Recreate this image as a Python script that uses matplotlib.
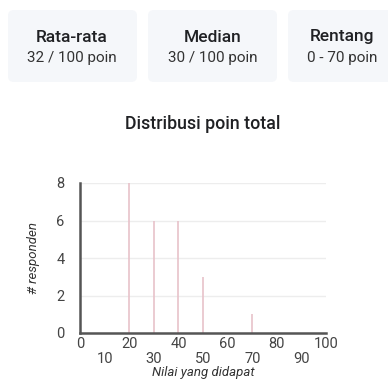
import matplotlib
matplotlib.use("Agg")
import matplotlib.pyplot as plt
from matplotlib.patches import FancyBboxPatch

plt.rcParams['font.family'] = ['Roboto', 'DejaVu Sans']

# Data
card_titles = ["Rata-rata", "Median", "Rentang"]
card_values = ["32 / 100 poin", "30 / 100 poin", "0 - 70 poin"]
scores = [0, 20, 30, 40, 50, 70]
counts = [1, 8, 6, 6, 3, 1]
major_xticks = [0, 20, 40, 60, 80, 100]
minor_xticks = [10, 30, 50, 70, 90]
yticks = [0, 2, 4, 6, 8]
title = "Distribusi poin total"
xlabel = "Nilai yang didapat"
ylabel = "# responden"

W, H = 388, 379
fig = plt.figure(figsize=(W / 100, H / 100), dpi=100)

def fx(px):
    return px / W

def fy(py):
    return 1 - py / H

# Cards
card_boxes = [(8, 137), (148, 277), (288, 400)]
card_centers = [72, 213, 342]
for (x0, x1), cx, t, v in zip(card_boxes, card_centers, card_titles, card_values):
    box = FancyBboxPatch((fx(x0), fy(82)), fx(x1 - x0), (82 - 10) / H,
                         boxstyle="round,pad=0,rounding_size=0.015",
                         transform=fig.transFigure, facecolor="#f5f7fa",
                         edgecolor="none", zorder=0)
    fig.patches.append(box)
    fig.text(fx(cx), fy(37), t, ha="center", va="center", fontsize=12.5,
             fontweight="medium", color="#202124")
    fig.text(fx(cx), fy(58), v, ha="center", va="center", fontsize=11,
             color="#333333")

fig.text(fx(203), fy(124), title, ha="center", va="center", fontsize=12.8,
         fontweight="medium", color="#202124")

ax = fig.add_axes([fx(80), 1 - 333 / H, 246 / W, 150 / H])
ax.vlines(scores, 0, counts, colors="#e8c2ca", linewidth=1.2, zorder=2)
ax.set_xlim(0, 100)
ax.set_ylim(0, 8)
ax.set_yticks(yticks)
ax.set_xticks(major_xticks)
ax.set_xticks(minor_xticks, minor=True)
ax.set_xticklabels([str(t) for t in major_xticks])
ax.set_xticklabels([str(t) for t in minor_xticks], minor=True)
ax.tick_params(axis="x", which="major", length=0, pad=3, labelsize=10.5, labelcolor="#444444")
ax.tick_params(axis="x", which="minor", length=0, pad=13.5, labelsize=10.5, labelcolor="#444444")
ax.tick_params(axis="y", length=0, pad=11, labelsize=10.5, labelcolor="#444444")
ax.grid(axis="y", color="#ededed", linewidth=1, zorder=0)
ax.set_axisbelow(True)
for s in ["top", "right"]:
    ax.spines[s].set_visible(False)
for s in ["left", "bottom"]:
    ax.spines[s].set_color("#555555")
    ax.spines[s].set_linewidth(1.8)
    ax.spines[s].set_zorder(3)
ax.set_xlabel(xlabel, fontsize=9.5, style="italic", color="#333333", labelpad=0)
ax.set_ylabel(ylabel, fontsize=9.5, style="italic", color="#333333", labelpad=12)

fig.savefig("out.png", dpi=100, facecolor="white")
